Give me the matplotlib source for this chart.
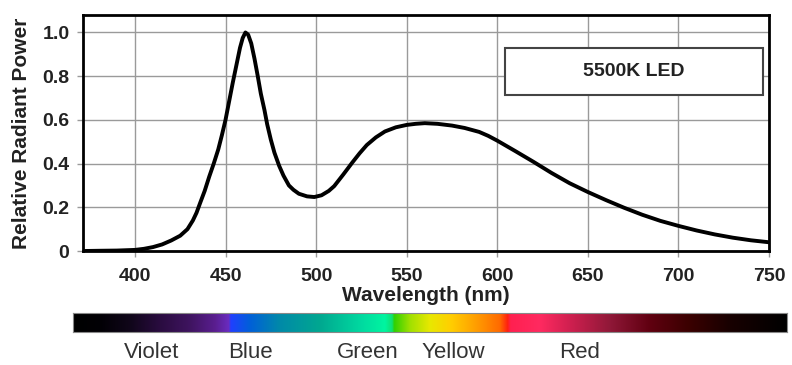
import numpy as np
import matplotlib
matplotlib.use('Agg')
import matplotlib.pyplot as plt
from matplotlib.colors import LinearSegmentedColormap
from matplotlib.patches import Rectangle

plt.rcParams['font.family'] = ['Liberation Sans', 'DejaVu Sans']

# spectrum of the 5500K LED
wavelength = [372, 380, 390, 400, 405, 410, 415, 420, 425, 429, 432, 434, 436, 438.5, 441, 443.5,
              446, 448, 450, 452, 454, 456, 458, 459.5, 461, 462.5, 464.2, 466, 467.8, 469.5,
              471.5, 473, 475, 477, 479.6, 482, 485, 487.5, 490.5, 495, 499, 503, 507, 510,
              515, 520, 524, 528, 533, 538, 544, 550, 555, 560, 567, 575, 582, 590, 595, 600,
              610, 620, 630, 640, 650, 660, 670, 680, 690, 700, 710, 720, 730, 740, 750]
power = [0.0, 0.001, 0.002, 0.005, 0.01, 0.018, 0.03, 0.048, 0.07, 0.10, 0.14, 0.175, 0.22, 0.275, 0.34, 0.40,
         0.465, 0.53, 0.60, 0.685, 0.77, 0.85, 0.93, 0.975, 1.0, 0.99, 0.95, 0.88, 0.80, 0.72,
         0.645, 0.58, 0.51, 0.45, 0.39, 0.345, 0.30, 0.28, 0.262, 0.25, 0.247, 0.255, 0.275, 0.297,
         0.35, 0.405, 0.447, 0.485, 0.52, 0.547, 0.566, 0.577, 0.582, 0.585, 0.582, 0.574, 0.563, 0.545, 0.527, 0.505,
         0.457, 0.408, 0.357, 0.31, 0.27, 0.233,
         0.198, 0.166, 0.138, 0.115, 0.094, 0.076, 0.061, 0.049, 0.04]

x_ticks = [400, 450, 500, 550, 600, 650, 700, 750]
y_ticks = [0, 0.2, 0.4, 0.6, 0.8, 1.0]
y_ticklabels = ['0', '0.2', '0.4', '0.6', '0.8', '1.0']
legend_text = '5500K LED'

# colour band under the chart
band_pos = [0.0, 0.038, 0.08, 0.122, 0.164, 0.199, 0.218, 0.221, 0.248, 0.29, 0.346, 0.402,
            0.437, 0.447, 0.450, 0.472, 0.50, 0.528, 0.563, 0.598, 0.609, 0.613, 0.654,
            0.696, 0.752, 0.808, 0.864, 0.92, 1.0]
band_col = ['#000000', '#020005', '#10061a', '#2a0c40', '#3f1460', '#5a1e90', '#6a2cc0', '#2040ff',
            '#0060d8', '#008aa8', '#00a890', '#00d8a0', '#00f5a0', '#10e070', '#30d000', '#a0e000',
            '#e8e800', '#ffd000', '#ffa000', '#ff6a00', '#ff2010', '#ff2050', '#ff2a60', '#d02050',
            '#901838', '#600010', '#3a0000', '#180000', '#000000']
color_names = ['Violet', 'Blue', 'Green', 'Yellow', 'Red']
name_x = [152, 250, 368, 453, 580]  # pixel centres under the band

W, H = 792, 365
fig = plt.figure(figsize=(W / 100, H / 100), dpi=100)
ax = fig.add_axes([83.3 / W, 1 - 251 / H, (769 - 83.3) / W, (251 - 15) / H])

ax.plot(wavelength, power, color='black', lw=2.8, solid_capstyle='round',
        solid_joinstyle='round', zorder=4)
ax.set_xlim(371.5, 750)
ax.set_ylim(0, 1.08)
ax.set_xticks(x_ticks)
ax.set_yticks(y_ticks)
ax.set_yticklabels(y_ticklabels)
ax.grid(True, color='#9a9a9a', lw=1.0)
ax.set_axisbelow(True)
for s in ax.spines.values():
    s.set_linewidth(2.0)
    s.set_zorder(5)
ax.tick_params(length=4, width=1, color='#9a9a9a', labelsize=14, pad=6)
for lbl in ax.get_xticklabels() + ax.get_yticklabels():
    lbl.set_fontweight('bold')
    lbl.set_color('#222222')
ax.tick_params(axis='x', pad=8)
ax.set_xlabel('Wavelength (nm)', fontsize=15, fontweight='bold', color='#222222', labelpad=1)
ax.set_ylabel('Relative Radiant Power', fontsize=15, fontweight='bold', color='#222222', labelpad=8)

ax.add_patch(Rectangle((604, 0.714), 142.5, 0.215, facecolor='white', edgecolor='#444444',
                       lw=1.5, zorder=3))
ax.text(604 + 142.5 / 2, 0.714 + 0.215 / 2, legend_text, ha='center', va='center',
        fontsize=14, fontweight='bold', color='#222222', zorder=4)

# spectrum band
bax = fig.add_axes([73 / W, 1 - 332 / H, (787 - 73) / W, 19 / H])
cmap = LinearSegmentedColormap.from_list('band', list(zip(band_pos, band_col)), N=1024)
bax.imshow(np.linspace(0, 1, 1024)[None, :], aspect='auto', cmap=cmap, extent=[0, 1, 0, 1])
bax.set_xticks([])
bax.set_yticks([])
for s in bax.spines.values():
    s.set_color('#888888')
    s.set_linewidth(0.8)

for name, px in zip(color_names, name_x):
    fig.text(px / W, 1 - 353 / H, name, ha='center', va='center', fontsize=16, color='#333333')

fig.savefig('out.png', dpi=100)
